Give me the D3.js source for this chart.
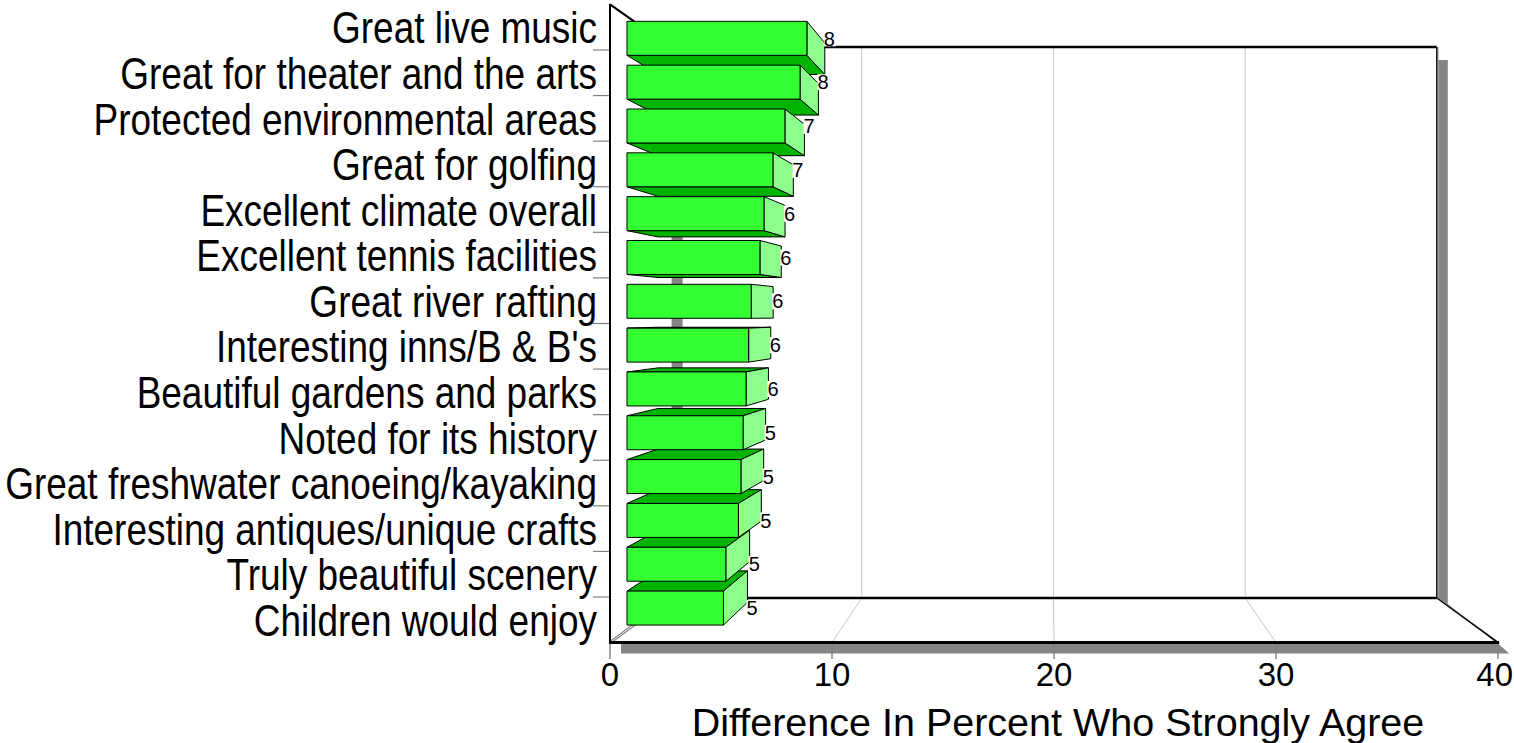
<!DOCTYPE html>
<html><head><meta charset="utf-8">
<script src="https://cdn.jsdelivr.net/npm/d3@7"></script>
<style>body{margin:0;background:#fff}svg{display:block}</style>
</head><body>
<svg id="chart" width="1514" height="743"></svg>
<script>
// Attributes, ordered as ranked
const categories = [
  "Great live music",
  "Great for theater and the arts",
  "Protected environmental areas",
  "Great for golfing",
  "Excellent climate overall",
  "Excellent tennis facilities",
  "Great river rafting",
  "Interesting inns/B & B's",
  "Beautiful gardens and parks",
  "Noted for its history",
  "Great freshwater canoeing/kayaking",
  "Interesting antiques/unique crafts",
  "Truly beautiful scenery",
  "Children would enjoy"
];
// Difference in percent who strongly agree
const values = [8.43, 8.11, 7.40, 6.84, 6.42, 6.23, 5.82, 5.70, 5.58, 5.44, 5.34, 5.22, 4.63, 4.52];
const valueTicks = [0, 10, 20, 30, 40];
const gridTicks = [10, 20, 30];
const axisTitle = "Difference In Percent Who Strongly Agree";

const W = 1514, H = 743;
const svg = d3.select("#chart");
svg.append("rect").attr("width", W).attr("height", H).attr("fill", "#fff");

// front-plane scales
const x = d3.scaleLinear().domain([0, 40]).range([610, 1498]);
const y = d3.scaleBand().domain(categories).range([4.4, 642.6])
  .paddingInner(0.225).paddingOuter(0.1125);
// depth 0 = front plane, 1 = back wall; perspective shrink toward vanishing point
const depth = d3.scaleLinear().domain([0, 1]).range([1, 0.8634]);
const VX = 1050, VY = 316;
const yTop = 4.4, yBot = 642.6;
function P(v, yy, z) {
  const s = depth(z);
  return [VX + (x(v) - VX) * s, VY + (yy - VY) * s];
}
const line = d3.line();
const poly = pts => line(pts) + "Z";

const fTL = P(0, yTop, 0), bTL = P(0, yTop, 1), bTR = P(40, yTop, 1);
const bBL = P(0, yBot, 1), bBR = P(40, yBot, 1), fBL = P(0, yBot, 0), fBR = P(40, yBot, 0);

// drop shadows of the frame
const shade = "#858585";
svg.append("path").attr("fill", shade).attr("d", poly([
  [bTR[0] + 1.5, bTR[1] + 13], [bTR[0] + 11, bTR[1] + 13], [bBR[0] + 11, bBR[1] + 6],
  [fBR[0] + 11, fBR[1] + 11], [fBR[0], fBR[1] + 1], [bBR[0] + 1.5, bBR[1] + 1]
]));
svg.append("path").attr("fill", shade).attr("d", poly([
  [fBL[0] + 11, fBL[1] + 1.5], [fBR[0], fBR[1] + 1.5], [fBR[0] + 11, fBR[1] + 11], [fBL[0] + 11, fBL[1] + 11]
]));
svg.append("rect").attr("fill", shade)
  .attr("x", bTL[0] + 1.5).attr("y", bTL[1]).attr("width", 11).attr("height", bBL[1] - bTL[1]);

// gridlines on back wall and floor
const grid = svg.append("g").attr("stroke", "#c8c8c8").attr("stroke-width", 1);
gridTicks.forEach(v => {
  grid.append("path").attr("d", line([P(v, yTop, 1), P(v, yBot, 1)]));
  grid.append("path").attr("d", line([P(v, yBot, 0), P(v, yBot, 1)]));
});

// frame edges
const frame = svg.append("g").attr("fill", "none");
frame.append("path").attr("d", line([bTL, bTR])).attr("stroke", "#000").attr("stroke-width", 2.5);
frame.append("path").attr("d", line([[bTR[0] + 1.2, bTR[1]], [bBR[0] + 1.2, bBR[1]]])).attr("stroke", "#999").attr("stroke-width", 1);
frame.append("path").attr("d", line([bTR, bBR])).attr("stroke", "#000").attr("stroke-width", 1.4);
frame.append("path").attr("d", line([bBL, bBR])).attr("stroke", "#000").attr("stroke-width", 2.5);
frame.append("path").attr("d", line([[bBR[0] + 1.5, bBR[1] + 0.5], [fBR[0] + 1.5, fBR[1] + 0.5]])).attr("stroke", "#999").attr("stroke-width", 1.2);
frame.append("path").attr("d", line([bBR, fBR])).attr("stroke", "#000").attr("stroke-width", 1.3);
frame.append("path").attr("d", line([fBL, bBL])).attr("stroke", "#777").attr("stroke-width", 3);
frame.append("path").attr("d", line([fBL, bBL])).attr("stroke", "#fff").attr("stroke-width", 1);
frame.append("path").attr("d", line([fTL, bTL])).attr("stroke", "#000").attr("stroke-width", 2.2);

// bars as perspective boxes
const Z0 = 0.2826, Z1 = 0.80;
const bw = y.bandwidth();
const bars = categories.map((c, i) => ({ c, v: values[i], y0: y(c), y1: y(c) + bw }));
const order = bars.slice().sort((a, b) =>
  Math.abs((b.y0 + b.y1) / 2 - VY) - Math.abs((a.y0 + a.y1) / 2 - VY));
const gBars = svg.append("g").attr("stroke", "#000").attr("stroke-width", 1).attr("stroke-linejoin", "round");
order.forEach(d => {
  const g = gBars.append("g");
  if (d.y1 < VY) {
    g.append("path").attr("fill", "#00b400")
      .attr("d", poly([P(0, d.y1, Z0), P(d.v, d.y1, Z0), P(d.v, d.y1, Z1), P(0, d.y1, Z1)]));
  }
  if (d.y0 > VY) {
    g.append("path").attr("fill", "#00b400")
      .attr("d", poly([P(0, d.y0, Z0), P(d.v, d.y0, Z0), P(d.v, d.y0, Z1), P(0, d.y0, Z1)]));
  }
  g.append("path").attr("fill", "#8cff8c")
    .attr("d", poly([P(d.v, d.y0, Z0), P(d.v, d.y0, Z1), P(d.v, d.y1, Z1), P(d.v, d.y1, Z0)]));
  g.append("path").attr("fill", "#33ff33")
    .attr("d", poly([P(0, d.y0, Z0), P(d.v, d.y0, Z0), P(d.v, d.y1, Z0), P(0, d.y1, Z0)]));
});

// value labels with white backing
const fmt = d3.format(".0f");
const gLab = svg.append("g").attr("font-family", "'Liberation Sans', Arial, sans-serif").attr("font-size", 20);
bars.forEach(d => {
  const lx = P(d.v, d.y0, Z1)[0] - 1;
  const ly = P(d.v, (d.y0 + d.y1) / 2, Z0)[1];
  const t = gLab.append("text").attr("x", lx).attr("y", ly).attr("dy", "0.36em").text(fmt(d.v));
  const bb = t.node().getBBox();
  gLab.insert("rect", "text").attr("fill", "#fff")
    .attr("x", bb.x).attr("y", ly - 8).attr("width", bb.width + 1).attr("height", 16);
});

// axes on the front plane
const ax = svg.append("g");
ax.append("g").attr("stroke", "#808080").attr("stroke-width", 1.2).selectAll("line")
  .data(d3.range(1, categories.length)).join("line")
  .attr("x1", 593).attr("x2", x(0)).attr("y1", i => yTop + i * y.step()).attr("y2", i => yTop + i * y.step());
ax.append("g").attr("stroke", "#808080").attr("stroke-width", 1.4).selectAll("line")
  .data(valueTicks).join("line")
  .attr("x1", d => x(d)).attr("x2", d => x(d)).attr("y1", yBot).attr("y2", 659);
ax.append("path").attr("d", line([[x(0), yTop - 0.5], [x(0), yBot]])).attr("stroke", "#000").attr("stroke-width", 2);
ax.append("path").attr("d", line([[x(0) - 1, yBot], [x(40) + 1, yBot]])).attr("stroke", "#000").attr("stroke-width", 3);

const tickText = ax.append("g").attr("font-family", "'Liberation Sans', Arial, sans-serif").attr("font-size", 33)
  .attr("text-anchor", "middle").selectAll("text").data(valueTicks).join("text")
  .attr("x", d => x(d)).attr("y", 686).text(d => d);
// keep the end label inside the canvas
tickText.attr("x", function (d) {
  const half = this.getComputedTextLength() / 2;
  return Math.min(x(d), W - half - 1);
});

ax.append("text").attr("font-family", "'Liberation Sans', Arial, sans-serif").attr("font-size", 39.5)
  .attr("text-anchor", "middle").attr("x", (x(0) + x(40)) / 2 + 4).attr("y", 736).text(axisTitle);

// category labels
const cat = ax.append("g").attr("font-family", "'Liberation Sans Narrow', 'Arial Narrow', 'Liberation Sans', sans-serif")
  .attr("font-size", 45).attr("text-anchor", "end");
const catText = cat.selectAll("text").data(categories).join("text")
  .attr("transform", d => `translate(597,${y(d) + bw / 2})`).attr("dy", "0.36em").text(d => d);
// keep the longest label within the left margin if a narrow face is missing
const maxW = d3.max(catText.nodes(), n => n.getComputedTextLength());
const k = Math.min(1, 592 / maxW);
if (k < 1) catText.attr("transform", d => `translate(597,${y(d) + bw / 2}) scale(${k},1)`);
</script>
</body></html>
